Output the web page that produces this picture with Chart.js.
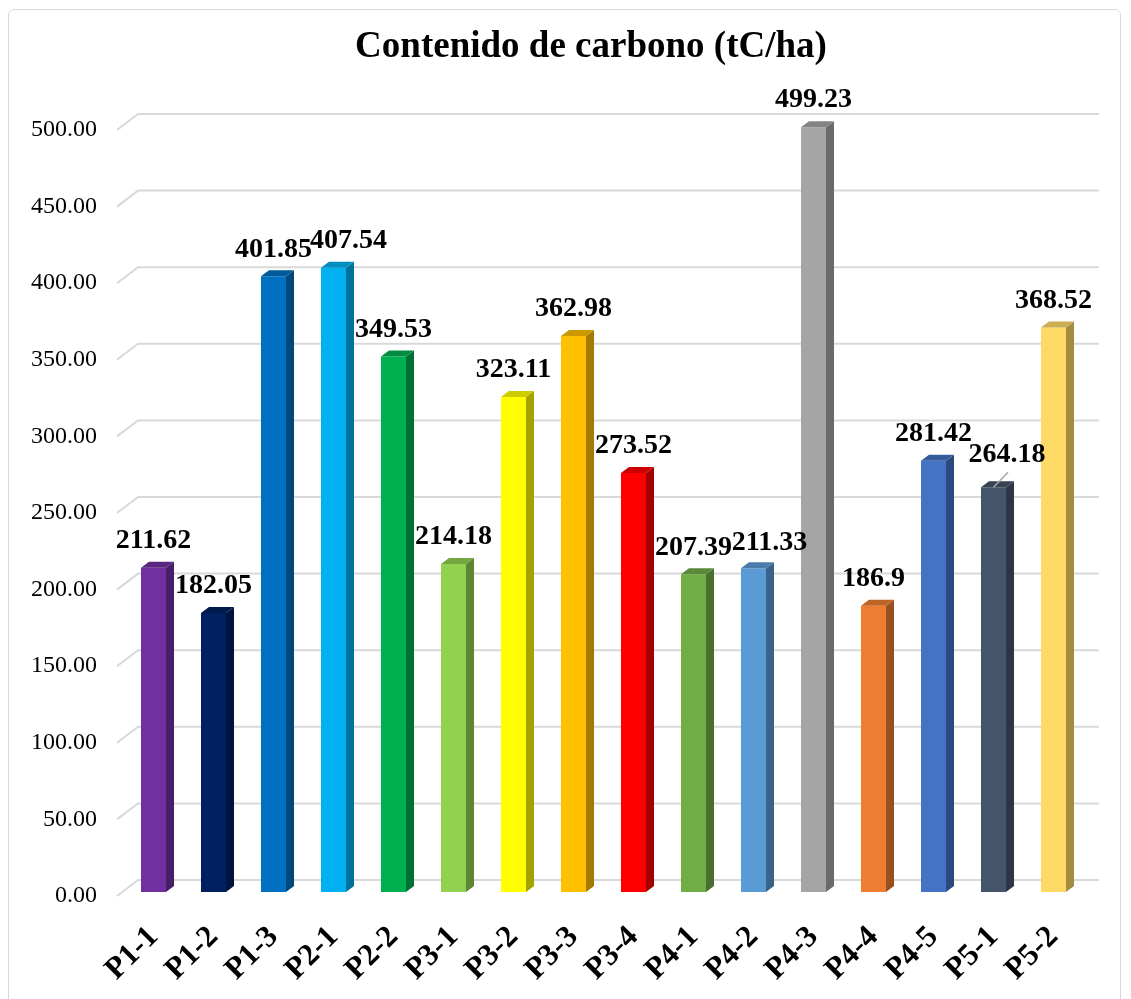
<!DOCTYPE html>
<html>
<head>
<meta charset="utf-8">
<script src="https://cdn.jsdelivr.net/npm/chart.js@4.4.1/dist/chart.umd.min.js"></script>
<style>
  html, body { margin: 0; padding: 0; background: #ffffff; }
  #wrap { position: relative; width: 1131px; height: 999px; overflow: hidden; }
  #wrap canvas { position: absolute; left: 0; top: 0; }
  #frame { position: absolute; left: 8px; top: 9px; width: 1111px; height: 1020px;
           border: 1.5px solid #d9d9d9; border-radius: 6px; pointer-events: none; }
</style>
</head>
<body>
<div id="wrap">
  <canvas id="chart" width="1131" height="999"></canvas>
  <div id="frame"></div>
</div>
<script>
// Sample plots
const categories = ['P1-1', 'P1-2', 'P1-3', 'P2-1', 'P2-2', 'P3-1', 'P3-2', 'P3-3',
                    'P3-4', 'P4-1', 'P4-2', 'P4-3', 'P4-4', 'P4-5', 'P5-1', 'P5-2'];

// Carbon content per plot (tC/ha)
const carbonValues = [211.62, 182.05, 401.85, 407.54, 349.53, 214.18, 323.11, 362.98,
                      273.52, 207.39, 211.33, 499.23, 186.9, 281.42, 264.18, 368.52];

// Value axis
const yAxisMin = 0;
const yAxisMax = 500;
const yAxisStep = 50;

const chartTitle = 'Contenido de carbono (tC/ha)';

// One colour per plot
const barColors = ['#7030A0', '#002060', '#0070C0', '#00B0F0', '#00B050', '#92D050',
                   '#FFFF00', '#FFC000', '#FF0000', '#70AD47', '#5B9BD5', '#A5A5A5',
                   '#ED7D31', '#4472C4', '#44546A', '#FFD966'];

const SERIF = '"Liberation Serif", "Times New Roman", "DejaVu Serif", serif';
Chart.defaults.font.family = SERIF;

// Depth of the extruded bars and of the back wall
const DEPTH_X = 8, DEPTH_Y = -6;
const WALL_X = 21, WALL_Y = -16;

function shade(hex, f) {
  const n = parseInt(hex.slice(1), 16);
  const r = (n >> 16) & 255, g = (n >> 8) & 255, b = n & 255;
  return 'rgb(' + Math.round(r * f) + ',' + Math.round(g * f) + ',' + Math.round(b * f) + ')';
}

// Title, centred over the plot including the wall depth
const titleText = {
  id: 'titleText',
  afterDraw(chart) {
    const ctx = chart.ctx;
    ctx.save();
    ctx.font = 'bold 37px ' + SERIF;
    ctx.fillStyle = '#000000';
    ctx.textAlign = 'center';
    ctx.textBaseline = 'alphabetic';
    ctx.fillText(chartTitle, 591, 57);
    ctx.restore();
  }
};

// Gridlines on the back wall with the short floor-to-wall stub on the left
const wallGrid = {
  id: 'wallGrid',
  beforeDatasetsDraw(chart) {
    const { ctx, chartArea, scales: { y } } = chart;
    ctx.save();
    ctx.strokeStyle = '#d9d9d9';
    ctx.lineWidth = 2;
    y.ticks.forEach(t => {
      const py = y.getPixelForValue(t.value) + 4;
      const x0 = chartArea.left - 6.5;
      ctx.beginPath();
      ctx.moveTo(x0, py);
      ctx.lineTo(x0 + WALL_X, py + WALL_Y);
      ctx.lineTo(chartArea.right + 15.5, py + WALL_Y);
      ctx.stroke();
    });
    ctx.restore();
  }
};

// Side and top faces of each bar, taken from the bar element geometry
const barFaces = {
  id: 'barFaces',
  afterDatasetsDraw(chart) {
    const ctx = chart.ctx;
    const meta = chart.getDatasetMeta(0);
    ctx.save();
    meta.data.forEach((bar, i) => {
      const { x, y, base, width } = bar.getProps(['x', 'y', 'base', 'width'], true);
      const l = x - width / 2, r = x + width / 2;
      const c = barColors[i];
      ctx.fillStyle = shade(c, 0.64);
      ctx.beginPath();
      ctx.moveTo(r, y);
      ctx.lineTo(r + DEPTH_X, y + DEPTH_Y);
      ctx.lineTo(r + DEPTH_X, base + DEPTH_Y);
      ctx.lineTo(r, base);
      ctx.closePath();
      ctx.fill();
      ctx.fillStyle = shade(c, 0.8);
      ctx.beginPath();
      ctx.moveTo(l, y);
      ctx.lineTo(l + DEPTH_X, y + DEPTH_Y);
      ctx.lineTo(r + DEPTH_X, y + DEPTH_Y);
      ctx.lineTo(r, y);
      ctx.closePath();
      ctx.fill();
    });
    ctx.restore();
  }
};

// Value labels above the bars; a few are nudged sideways to avoid overlaps
const labelNudge = { 3: [15, 0], 10: [16, 2], 14: [13.5, -6] };
const leaderLines = [14];

const valueLabels = {
  id: 'valueLabels',
  afterDatasetsDraw(chart) {
    const ctx = chart.ctx;
    const meta = chart.getDatasetMeta(0);
    ctx.save();
    ctx.font = 'bold 28px ' + SERIF;
    ctx.fillStyle = '#000000';
    ctx.textAlign = 'center';
    ctx.textBaseline = 'middle';
    meta.data.forEach((bar, i) => {
      const { x, y } = bar.getProps(['x', 'y'], true);
      const [dx, dy] = labelNudge[i] || [0, 0];
      const lx = x + dx, ly = y - 27 + dy;
      if (leaderLines.includes(i)) {
        ctx.save();
        ctx.strokeStyle = '#a6a6a6';
        ctx.lineWidth = 1.5;
        ctx.beginPath();
        ctx.moveTo(x, y);
        ctx.lineTo(lx + 1, ly + 18);
        ctx.stroke();
        ctx.restore();
      }
      ctx.fillText(String(carbonValues[i]), lx, ly);
    });
    ctx.restore();
  }
};

new Chart(document.getElementById('chart'), {
  type: 'bar',
  data: {
    labels: categories,
    datasets: [{
      data: carbonValues,
      backgroundColor: barColors,
      borderWidth: 0,
      barPercentage: 0.417,
      categoryPercentage: 1
    }]
  },
  options: {
    responsive: false,
    animation: false,
    layout: { padding: { left: 20, right: 47.5, top: 126, bottom: 0 } },
    plugins: {
      legend: { display: false },
      tooltip: { enabled: false },
      title: { display: false }
    },
    scales: {
      x: {
        grid: { display: false, drawTicks: false },
        border: { display: false },
        ticks: {
          color: '#000000',
          font: { family: SERIF, size: 31, weight: 'bold' },
          minRotation: 45,
          maxRotation: 45,
          autoSkip: false,
          padding: 27
        },
        afterFit(scale) { scale.height = 107; }
      },
      y: {
        min: yAxisMin,
        max: yAxisMax,
        grid: { display: false, drawTicks: false },
        border: { display: false },
        ticks: {
          stepSize: yAxisStep,
          color: '#000000',
          font: { family: SERIF, size: 24 },
          padding: 26.5,
          labelOffset: 4,
          callback: v => Number(v).toFixed(2)
        },
        afterFit(scale) { scale.width = 103.5; }
      }
    }
  },
  plugins: [wallGrid, barFaces, valueLabels, titleText]
});
</script>
</body>
</html>
